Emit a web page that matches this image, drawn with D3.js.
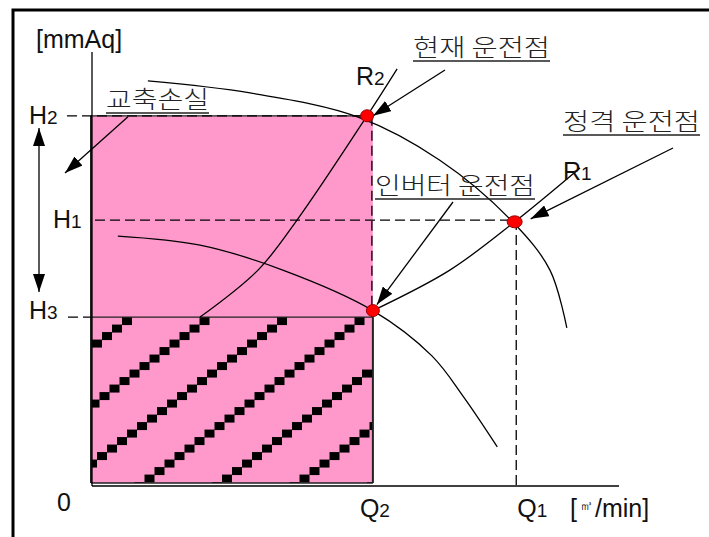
<!DOCTYPE html>
<html>
<head>
<meta charset="utf-8">
<script src="https://cdn.jsdelivr.net/npm/d3@7"></script>
<style>
  body { margin: 0; background: #fff; }
  svg { display: block; }
  .lat { font-family: Arial, "Liberation Sans", sans-serif; fill: #111; }
  .kor { font-family: "Noto Sans CJK KR", sans-serif; font-weight: 300; fill: #222; }
</style>
</head>
<body>
<div id="chart"></div>
<script>
// head levels [mmAq] and flows [m3/min] (0..100 scale)
var headNames = ["H2", "H1", "H3"];
var headValues = [85.2, 61.0, 38.5];
var flowNames = ["Q2", "Q1"];
var flowValues = [53.3, 80.5];

// pump curve at full speed
var pumpFull = [[10.6, 93.3], [30.0, 90.5], [50.5, 84.9], [66.0, 74.9], [79.9, 60.5], [86.9, 49.4], [90.1, 36.0]];
// pump curve with inverter
var pumpInverter = [[4.9, 57.3], [20.5, 55.2], [36.2, 49.4], [53.3, 40.0], [64.5, 29.5], [70.5, 20.0], [76.9, 8.4]];
// system curve, throttled
var systemThrottled = [[20.5, 38.5], [31.5, 49.4], [38.9, 61.0], [52.2, 85.2], [57.9, 96.1]];
// system curve, open
var systemOpen = [[53.3, 40.0], [67.9, 49.4], [80.2, 60.6], [92.6, 73.1]];

// operating points: R2 (현재), R1 (정격), 인버터
var pointNames = ["R2", "R1", "INV"];
var pointQ = [52.2, 80.2, 53.3];
var pointH = [85.2, 60.6, 40.0];

var W = 709, H = 537;
var svg = d3.select("#chart").append("svg")
    .attr("width", W)
    .attr("height", H);

var x = d3.scaleLinear().domain([0, 100]).range([92, 619]);
var y = d3.scaleLinear().domain([0, 100]).range([483, 52]);

var defs = svg.append("defs");
defs.append("marker")
    .attr("id", "head")
    .attr("viewBox", "0 0 18 12")
    .attr("refX", 18).attr("refY", 6)
    .attr("markerWidth", 18).attr("markerHeight", 12)
    .attr("markerUnits", "userSpaceOnUse")
    .attr("orient", "auto-start-reverse")
    .append("path").attr("d", "M0,0 L18,6 L0,12 Z").attr("fill", "#000");

var hH2 = headValues[0], hH1 = headValues[1], hH3 = headValues[2];
var q2 = flowValues[0], q1 = flowValues[1];

defs.append("clipPath").attr("id", "hatchClip")
  .append("rect")
    .attr("x", x(0) - 1).attr("y", y(hH3))
    .attr("width", x(q2) - x(0) + 1).attr("height", y(0) - y(hH3));

// frame
svg.append("rect")
    .attr("x", 13).attr("y", 10)
    .attr("width", 800).attr("height", 600)
    .attr("fill", "none").attr("stroke", "#000").attr("stroke-width", 3);

// pink loss area
svg.append("rect")
    .attr("x", x(0) - 1).attr("y", y(hH2))
    .attr("width", x(q2) - x(0) + 1).attr("height", y(0) - y(hH2))
    .attr("fill", "#ff99cc");

// hatch of small squares
var hatch = [];
for (var k = 0; k < 7; k++) {
    var x0 = 122 + 77.5 * k;
    for (var j = 0; j < 24; j++) {
        hatch.push([x0 - 10 * j, y(hH3) + 7.5 * j]);
    }
}
svg.append("g").attr("clip-path", "url(#hatchClip)")
  .selectAll("rect").data(hatch).enter().append("rect")
    .attr("x", function(d) { return d[0]; })
    .attr("y", function(d) { return d[1]; })
    .attr("width", 10).attr("height", 8)
    .attr("fill", "#000");

// rect outline
var edge = svg.append("g").attr("stroke", "#222").attr("fill", "none");
edge.append("line").attr("x1", x(0) - 1).attr("x2", x(0) - 1).attr("y1", y(hH2)).attr("y2", y(0)).attr("stroke-width", 2);
edge.append("line").attr("x1", x(0) - 1).attr("x2", x(q2)).attr("y1", y(hH2)).attr("y2", y(hH2)).attr("stroke-width", 1.3);
edge.append("line").attr("x1", x(0) - 1).attr("x2", x(q2)).attr("y1", y(hH3)).attr("y2", y(hH3)).attr("stroke-width", 1.3);
edge.append("line").attr("x1", x(0) - 1).attr("x2", x(q2)).attr("y1", y(0)).attr("y2", y(0)).attr("stroke-width", 1.5);
edge.append("line").attr("x1", x(q2)).attr("x2", x(q2)).attr("y1", y(hH3)).attr("y2", y(0)).attr("stroke-width", 2);

// axes
svg.append("line").attr("x1", x(0)).attr("x2", x(0)).attr("y1", y(100)).attr("y2", y(0) + 3)
    .attr("stroke", "#000").attr("stroke-width", 1.3);
svg.append("line").attr("x1", x(0)).attr("x2", x(100)).attr("y1", y(0) + 3).attr("y2", y(0) + 3)
    .attr("stroke", "#000").attr("stroke-width", 1.3);

// dashed guides
var dash = svg.append("g").attr("stroke", "#000").attr("stroke-width", 1.3).attr("stroke-dasharray", "10,5").attr("fill", "none");
dash.append("line").attr("x1", 67).attr("x2", x(q2)).attr("y1", y(hH2)).attr("y2", y(hH2));
dash.append("line").attr("x1", x(0) + 3).attr("x2", x(pointQ[1])).attr("y1", y(hH1)).attr("y2", y(hH1));
dash.append("line").attr("x1", 68).attr("x2", x(0) - 1).attr("y1", y(hH3)).attr("y2", y(hH3));
dash.append("line").attr("x1", x(q2) - 1).attr("x2", x(q2) - 1).attr("y1", y(hH2)).attr("y2", y(hH3));
dash.append("line").attr("x1", x(q1)).attr("x2", x(q1)).attr("y1", y(hH1)).attr("y2", y(0) + 3);

// curves
var line = d3.line()
    .x(function(d) { return x(d[0]); })
    .y(function(d) { return y(d[1]); })
    .curve(d3.curveCatmullRom.alpha(0.5));
[pumpFull, pumpInverter, systemThrottled, systemOpen].forEach(function(c) {
    svg.append("path").attr("d", line(c))
        .attr("fill", "none").attr("stroke", "#000").attr("stroke-width", 1.3);
});

// arrows
function arrow(x1, y1, x2, y2, both) {
    var a = svg.append("line")
        .attr("x1", x1).attr("y1", y1).attr("x2", x2).attr("y2", y2)
        .attr("stroke", "#000").attr("stroke-width", 1.3)
        .attr("marker-end", "url(#head)");
    if (both) a.attr("marker-start", "url(#head)");
}
arrow(39, 292, 39, 128, true);
arrow(128, y(hH2) + 1, 65, 173);
arrow(445, 70, x(pointQ[0]) + 6, y(pointH[0]));
arrow(673, 148, x(pointQ[1]) + 16, y(pointH[1]) - 3);
arrow(453, 202, x(pointQ[2]) + 4, y(pointH[2]) - 6);

// operating points
svg.selectAll("ellipse.pt").data(pointNames).enter().append("ellipse")
    .attr("class", "pt")
    .attr("cx", function(d, i) { return x(pointQ[i]); })
    .attr("cy", function(d, i) { return y(pointH[i]); })
    .attr("rx", function(d, i) { return i === 1 ? 7.5 : 6.5; })
    .attr("ry", 6)
    .attr("fill", "#ff0000").attr("stroke", "#900").attr("stroke-width", 1);

// latin labels with subscripts
function sub(px, py, main, small) {
    var t = svg.append("text").attr("class", "lat").attr("x", px).attr("y", py).attr("font-size", 25);
    t.append("tspan").text(main);
    t.append("tspan").attr("font-size", 19).text(small);
}
sub(29, y(hH2) + 8, "H", headNames[0].slice(1));
sub(53, y(hH1) + 8, "H", headNames[1].slice(1));
sub(29, y(hH3) + 2, "H", headNames[2].slice(1));
sub(356, 85, "R", pointNames[0].slice(1));
sub(563, 180, "R", pointNames[1].slice(1));
sub(x(q2) - 13, 517, "Q", flowNames[0].slice(1));
sub(x(q1) + 1, 517, "Q", flowNames[1].slice(1));

svg.append("text").attr("class", "lat").attr("x", 36).attr("y", 48).attr("font-size", 25).text("[mmAq]");
svg.append("text").attr("class", "lat").attr("x", 57).attr("y", 511).attr("font-size", 25).text("0");
var unit = svg.append("text").attr("class", "lat").attr("x", 570).attr("y", 517).attr("font-size", 25);
unit.append("tspan").text("[");
unit.append("tspan").attr("font-size", 13).attr("dy", -7).attr("dx", 3).text("㎥");
unit.append("tspan").attr("dy", 7).attr("dx", 2).text("/min]");

// korean labels, underlined
function kor(px, py, w, s) {
    svg.append("text").attr("class", "kor").attr("x", px).attr("y", py)
        .attr("font-size", 24).attr("textLength", w).attr("lengthAdjust", "spacingAndGlyphs").text(s);
    svg.append("line").attr("x1", px).attr("x2", px + w).attr("y1", py + 5).attr("y2", py + 5)
        .attr("stroke", "#222").attr("stroke-width", 1.3);
}
kor(106, 108, 103, "교축손실");
kor(413, 56, 137, "현재 운전점");
kor(563, 130, 137, "정격 운전점");
kor(375, 194, 160, "인버터 운전점");
</script>
</body>
</html>
